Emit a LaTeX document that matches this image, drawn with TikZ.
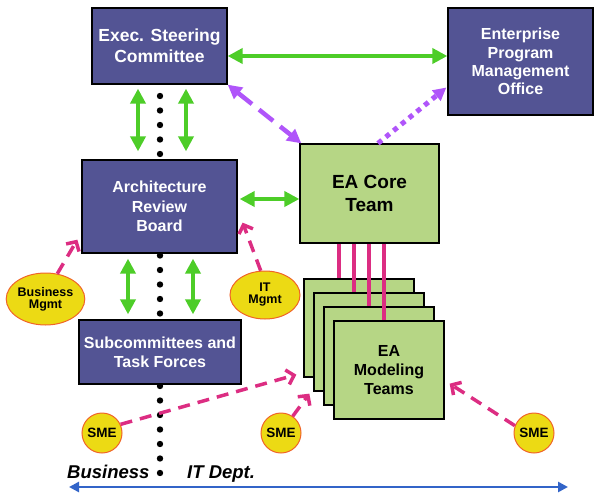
\documentclass[tikz,border=0pt]{standalone}
\usepackage{fontspec}
\setmainfont{Liberation Sans}
\usetikzlibrary{arrows.meta,shapes.geometric}
\definecolor{boxblue}{RGB}{83,84,148}
\definecolor{eagreen}{RGB}{182,214,133}
\definecolor{arrgreen}{RGB}{77,205,40}
\definecolor{purp}{RGB}{176,85,250}
\definecolor{pinkc}{RGB}{220,45,130}
\definecolor{yel}{RGB}{236,218,20}
\definecolor{ellbord}{RGB}{240,100,40}
\definecolor{bluearr}{RGB}{50,100,200}
\begin{document}
\begin{tikzpicture}[x=1pt,y=-1pt,
  bluebox/.style={draw=black, line width=1.3pt, fill=boxblue, text=white, align=center, inner sep=0pt,
    font=\bfseries\fontsize{16}{19.3}\selectfont},
  greenbox/.style={draw=black, line width=1.3pt, fill=eagreen, text=black, align=center, inner sep=0pt,
    font=\bfseries\fontsize{16}{19.3}\selectfont},
  cardbox/.style={greenbox, minimum width=110pt, minimum height=98pt},
  yelell/.style={ellipse, draw=ellbord, line width=1pt, fill=yel, align=center, inner sep=0pt,
    font=\bfseries\fontsize{12.5}{12}\selectfont},
  smecirc/.style={circle, draw=ellbord, line width=1pt, fill=yel, inner sep=0pt, minimum size=40pt,
    font=\bfseries\fontsize{13.5}{13}\selectfont},
  garrow/.style={draw=arrgreen, line width=4.5pt, {Triangle[length=15pt,width=15pt]}-{Triangle[length=15pt,width=15pt]}},
  pdash/.style={draw=purp, line width=4.5pt, dash pattern=on 18pt off 9pt, {Triangle[length=14pt,width=14pt]}-{Triangle[length=14pt,width=14pt]}},
  pdot/.style={draw=purp, line width=5pt, dash pattern=on 5pt off 5pt, -{Triangle[length=13pt,width=13pt]}},
  pinkarrow/.style={draw=pinkc, line width=3.5pt, dash pattern=on 12pt off 8pt, -{Straight Barb[length=7pt,width=15pt]}},
  pinkline/.style={draw=pinkc, line width=3.5pt},
  sidelabel/.style={font=\bfseries\itshape\fontsize{18.5}{20}\selectfont, inner sep=0pt, anchor=base west}
]
\useasboundingbox (0,0) rectangle (595,493);

% dotted divider
\foreach \i in {0,...,26} \fill (160,{96+14.5*\i}) circle (3.2pt);

% boxes
\node[bluebox, minimum width=135pt, minimum height=76pt, font=\bfseries\fontsize{17.5}{21}\selectfont] (exec) at (159.5,46) {Exec. Steering\\Committee};
\node[bluebox, minimum width=145pt, minimum height=107pt, font=\bfseries\fontsize{16}{18.3}\selectfont] (epmo) at (520.5,61.5) {Enterprise\\Program\\Management\\Office};
\node[bluebox, minimum width=155pt, minimum height=93pt] (arb) at (159.5,206.5) {Architecture\\Review\\Board};
\node[greenbox, minimum width=139pt, minimum height=99pt, font=\bfseries\fontsize{19}{23}\selectfont] (core) at (369.5,193.5) {EA Core\\Team};
\node[bluebox, minimum width=162pt, minimum height=64pt] (sub) at (160,352) {Subcommittees and\\Task Forces};

% stacked cards (back cards' text is hidden by the front card)
\node[cardbox] (card1) at (359,328) {};
\node[cardbox] (card2) at (369,342) {};
\node[cardbox] (card3) at (379,356) {};
\node[cardbox] (card4) at (389,370) {EA\\Modeling\\Teams};

% pink lines core -> cards
\draw[pinkline] ([xshift=-30.5pt]core.south) -- ([xshift=-30.5pt]core.south |- card1.north);
\draw[pinkline] ([xshift=-15.5pt]core.south) -- ([xshift=-15.5pt]core.south |- card2.north);
\draw[pinkline] ([xshift=-0.5pt]core.south) -- ([xshift=-0.5pt]core.south |- card3.north);
\draw[pinkline] ([xshift=14.5pt]core.south) -- ([xshift=14.5pt]core.south |- card4.north);

% ellipses and SMEs
\node[yelell, minimum width=71pt, minimum height=52pt] (bm) at (45.5,299) {Business\\Mgmt};
\node[yelell, minimum width=70pt, minimum height=48pt] (itm) at (265,295) {IT\\Mgmt};
\node[smecirc] (sme1) at (102,433) {SME};
\node[smecirc] (sme2) at (281,433) {SME};
\node[smecirc] (sme3) at (534,433) {SME};

% green arrows
\draw[garrow] ([yshift=-10pt]exec.east) -- ([yshift=5.5pt]epmo.west);
\draw[garrow] ([xshift=-21.5pt,yshift=-4pt]exec.south) -- ([xshift=-21.5pt,yshift=8pt]arb.north);
\draw[garrow] ([xshift=26.5pt,yshift=-4pt]exec.south) -- ([xshift=26.5pt,yshift=8pt]arb.north);
\draw[garrow] ([xshift=-31.5pt,yshift=-5pt]arb.south) -- ([xshift=-32pt,yshift=5pt]sub.north);
\draw[garrow] ([xshift=33.5pt,yshift=-5pt]arb.south) -- ([xshift=33pt,yshift=5pt]sub.north);
\draw[garrow] ([xshift=2pt,yshift=7.5pt]arb.east) -- ([yshift=-5.5pt]core.west);

% purple arrows
\draw[pdash] (exec.south east) -- ([xshift=2pt]core.north west);
\draw[pdot] ([xshift=8.5pt]core.north) -- ([xshift=-1pt,yshift=-26pt]epmo.west);

% pink dashed arrows
\draw[pinkarrow] (bm.65) -- ([xshift=-4pt,yshift=14pt]arb.south west);
\draw[pinkarrow] (itm.100) -- ([xshift=5pt,yshift=31pt]arb.south east);
\draw[pinkarrow] (sme1.25) -- ([xshift=-7pt,yshift=3pt]card1.south west);
\draw[pinkarrow] (sme2.55) -- ([xshift=-4pt,yshift=-2pt]card2.south west);
\draw[pinkarrow] (sme3.159) -- ([xshift=5pt,yshift=36pt]card4.south east);

% bottom labels and arrow
\node[sidelabel] (bus) at (67,478) {Business};
\node[sidelabel] (itd) at (187,478) {IT Dept.};
\coordinate (bl) at (69,487);
\coordinate (br) at (568,487);
\draw[bluearr, line width=2.5pt, {Triangle[length=10pt,width=10pt]}-{Triangle[length=10pt,width=10pt]}] (bl) -- (br);
\end{tikzpicture}
\end{document}
